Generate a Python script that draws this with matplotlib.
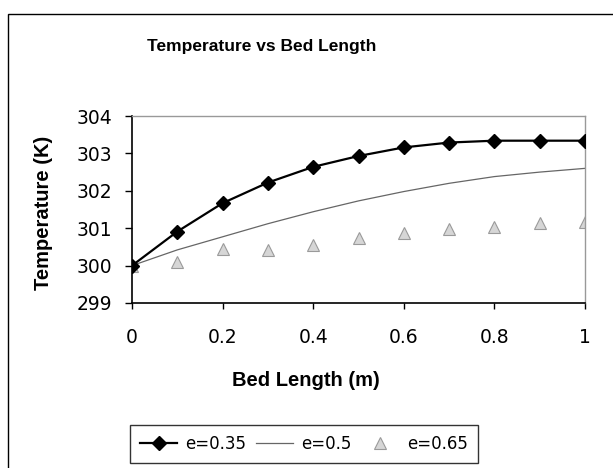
import matplotlib.pyplot as plt
from matplotlib.patches import Rectangle

plt.rcParams['font.family'] = ['Liberation Sans', 'DejaVu Sans']

# bed length (m) and temperature profiles (K) for three voidage values
bed_length = [0, 0.1, 0.2, 0.3, 0.4, 0.5, 0.6, 0.7, 0.8, 0.9, 1.0]
temp_e035 = [300.0, 300.91, 301.67, 302.22, 302.64, 302.93, 303.16, 303.29, 303.34, 303.34, 303.34]
temp_e05 = [300.0, 300.42, 300.77, 301.12, 301.44, 301.73, 301.98, 302.2, 302.38, 302.5, 302.6]
temp_e065 = [300.0, 300.1, 300.44, 300.42, 300.55, 300.73, 300.88, 300.97, 301.04, 301.15, 301.17]

W, H = 613, 468
fig = plt.figure(figsize=(W / 100, H / 100), dpi=100)
ax = fig.add_axes([132 / W, 1 - 303 / H, (585 - 132) / W, (303 - 116) / H])

# chart area border
fig.patches.append(Rectangle((8 / W, -0.05), 1.0, 1 - 14 / H + 0.05,
                             transform=fig.transFigure, fill=False,
                             edgecolor='black', linewidth=1.0))

ax.plot(bed_length, temp_e035, color='black', linewidth=1.6, marker='D',
        markersize=6.8, label='e=0.35', zorder=3)
ax.plot(bed_length, temp_e05, color='#666666', linewidth=0.9, label='e=0.5', zorder=2)
ax.plot(bed_length, temp_e065, linestyle='none', marker='^', markersize=8,
        markerfacecolor='#d6d6d6', markeredgecolor='#9a9a9a', markeredgewidth=0.8,
        label='e=0.65', zorder=2)

ax.set_xlim(0, 1)
ax.set_ylim(299, 304)
ax.set_xticks([0, 0.2, 0.4, 0.6, 0.8, 1])
ax.set_xticklabels(['0', '0.2', '0.4', '0.6', '0.8', '1'])
ax.set_yticks([299, 300, 301, 302, 303, 304])
ax.tick_params(axis='x', direction='out', length=4, width=1, pad=14, labelsize=13.5)
ax.tick_params(axis='y', direction='out', length=5, width=1, pad=9, labelsize=13.5)
for lbl in ax.get_xticklabels() + ax.get_yticklabels():
    lbl.set_family('DejaVu Sans')

for side in ['top', 'right']:
    ax.spines[side].set_color('#999999')
    ax.spines[side].set_linestyle((0, (1, 1)))
    ax.spines[side].set_linewidth(1.0)
for side in ['left', 'bottom']:
    ax.spines[side].set_color('black')
    ax.spines[side].set_linewidth(1.2)

fig.text(262 / W, 1 - 46 / H, 'Temperature vs Bed Length', ha='center', va='center',
         fontsize=12.5, fontweight='bold')
fig.text(306 / W, 1 - 381 / H, 'Bed Length (m)', ha='center', va='center',
         fontsize=14.5, fontweight='bold')
fig.text(44 / W, 1 - 213 / H, 'Temperature (K)', ha='center', va='center',
         rotation=90, fontsize=14.5, fontweight='bold')

leg = fig.legend(loc='center', bbox_to_anchor=(304 / W, 1 - 444 / H), ncol=3,
                 frameon=True, fancybox=False, handlelength=2.2,
                 handletextpad=0.5, columnspacing=0.6, borderpad=0.6,
                 prop={'family': 'DejaVu Sans', 'size': 12})
leg.get_frame().set_edgecolor('black')
leg.get_frame().set_linewidth(1.0)

fig.savefig('out.png', dpi=100)
